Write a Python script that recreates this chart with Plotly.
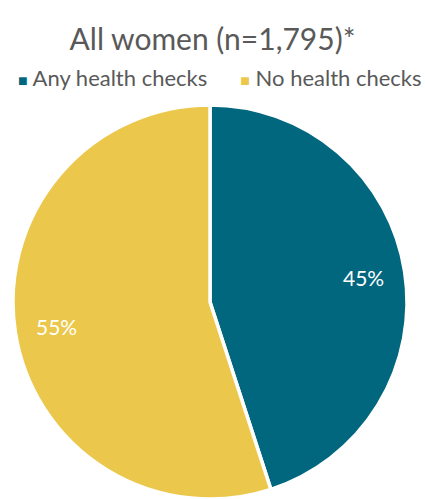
import math
import plotly.graph_objects as go

# Share of women by health-check status
categories = ["Any health checks", "No health checks"]
values = [45, 55]
colors = ["#00677F", "#EBC74B"]

FONT = "Lato"
GREY = "#595959"

fig = go.Figure(
    go.Pie(
        labels=categories,
        values=values,
        sort=False,
        direction="clockwise",
        rotation=0,
        marker=dict(colors=colors, line=dict(color="white", width=3.5)),
        textinfo="none",
        hoverinfo="label+percent",
        showlegend=False,
    )
)

# Percentage labels placed along each slice's mid-angle, near the rim
total = sum(values)
start = 0.0
for v in values:
    frac = v / total
    mid = (start + frac / 2) * 2 * math.pi
    r = 0.5 * 0.79
    fig.add_annotation(
        x=0.5 + r * math.sin(mid),
        y=0.5 + r * math.cos(mid),
        xref="paper",
        yref="paper",
        xanchor="center",
        yanchor="middle",
        text=f"{round(frac * 100)}%",
        showarrow=False,
        font=dict(family=FONT, size=21, color="white"),
    )
    start += frac

# Legend row drawn as text with coloured square markers
legend_text = "\u2003\u2003".join(
    f"<span style='color:{c}; font-size:16px'>\u25A0</span> {name}"
    for name, c in zip(categories, colors)
)
fig.add_annotation(
    x=0.525,
    y=1.0,
    xref="paper",
    yref="paper",
    xanchor="center",
    yanchor="bottom",
    yshift=12,
    text=legend_text,
    showarrow=False,
    font=dict(family=FONT, size=22, color=GREY),
)

fig.update_layout(
    width=425,
    height=499,
    margin=dict(l=13, r=18, t=105, b=0),
    paper_bgcolor="white",
    font=dict(family=FONT, color=GREY),
    title=dict(
        text="All women (n=1,795)*",
        x=0.5,
        xanchor="center",
        y=0.92,
        yanchor="middle",
        font=dict(size=30, color=GREY, family=FONT),
    ),
)

fig.write_html("out.html")
